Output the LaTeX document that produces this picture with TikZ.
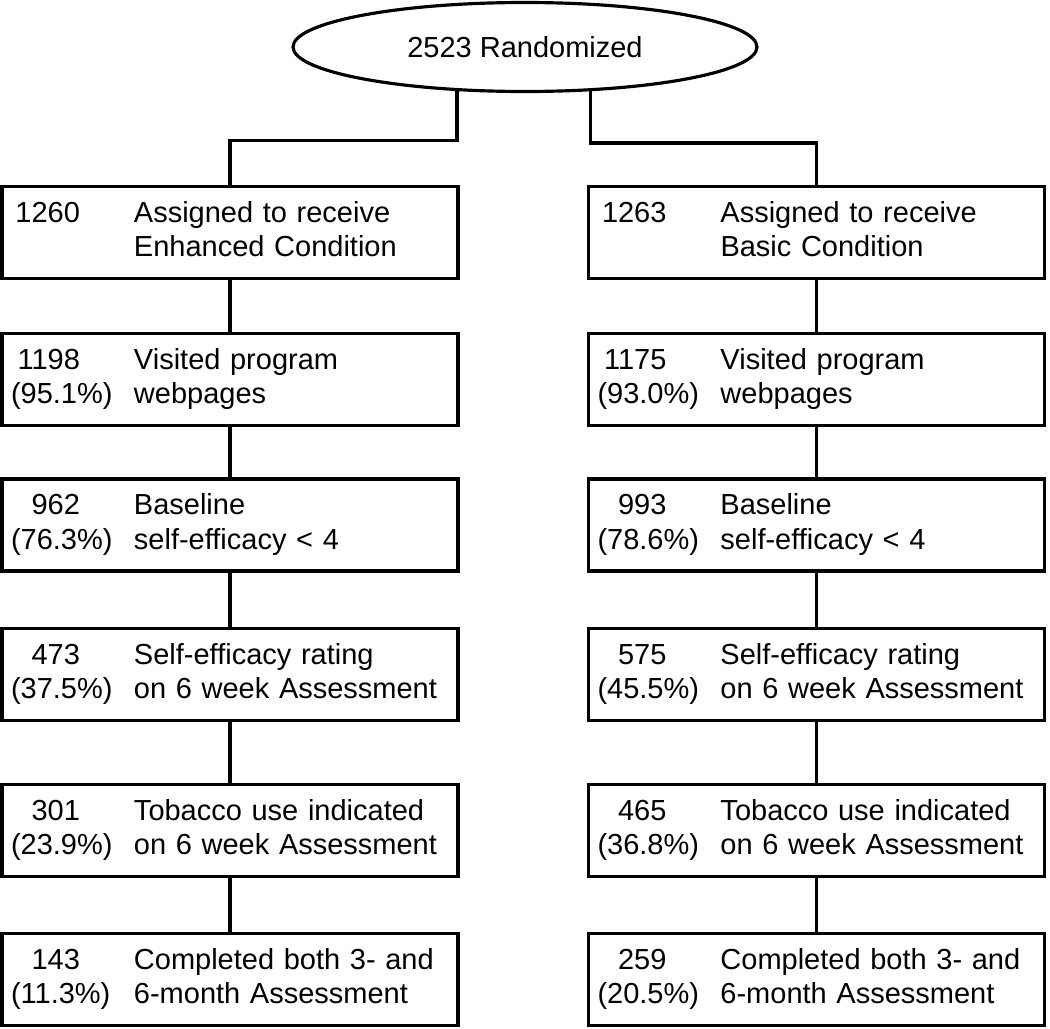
\documentclass[tikz,border=0pt]{standalone}
\usepackage{fontspec}
\setmainfont{Liberation Sans}
\usepackage{tikz}
\usetikzlibrary{shapes}
\tikzstyle{line} = [draw, line width=2pt]
\tikzstyle{box} = [rectangle, draw=black, line width=2pt, text width=8.76cm, inner xsep=0.18cm, minimum height=1.84cm, align=left, font=\fontsize{16.5}{19.9}\selectfont]
\newcommand{\flowtxt}[4]{\begin{tabular}{@{}p{2.46cm}@{}l@{}}\makebox[1.38cm][r]{#1} & #3\\ #2 & #4\end{tabular}}

\begin{document}
\begin{tikzpicture}
        \useasboundingbox (0,0) rectangle (21,-20.58);

        \node (R) [ellipse, draw=black, line width=1.8pt, xshift=10.5cm, yshift=-0.94cm, minimum width=9.28cm, minimum height=1.78cm, inner sep=0pt, font=\fontsize{16.5}{19.9}\selectfont] {2523 Randomized};

        % enhanced arm
        \node (e1) [box, xshift=4.6cm, yshift=-4.65cm] {\flowtxt{1260}{}{Assigned to receive}{Enhanced Condition}};
        \node (e2) [box, xshift=4.6cm, yshift=-7.59cm] {\flowtxt{1198}{(95.1\%)}{Visited program}{webpages}};
        \node (e3) [box, xshift=4.6cm, yshift=-10.5cm] {\flowtxt{962}{(76.3\%)}{Baseline}{self-efficacy < 4}};
        \node (e4) [box, xshift=4.6cm, yshift=-13.49cm] {\flowtxt{473}{(37.5\%)}{Self-efficacy rating}{on 6 week Assessment}};
        \node (e5) [box, xshift=4.6cm, yshift=-16.61cm] {\flowtxt{301}{(23.9\%)}{Tobacco use indicated}{on 6 week Assessment}};
        \node (e6) [box, xshift=4.6cm, yshift=-19.59cm] {\flowtxt{143}{(11.3\%)}{Completed both 3- and}{6-month Assessment}};

        % basic arm
        \node (b1) [box, xshift=16.33cm, yshift=-4.65cm] {\flowtxt{1263}{}{Assigned to receive}{Basic Condition}};
        \node (b2) [box, xshift=16.33cm, yshift=-7.59cm] {\flowtxt{1175}{(93.0\%)}{Visited program}{webpages}};
        \node (b3) [box, xshift=16.33cm, yshift=-10.5cm] {\flowtxt{993}{(78.6\%)}{Baseline}{self-efficacy < 4}};
        \node (b4) [box, xshift=16.33cm, yshift=-13.49cm] {\flowtxt{575}{(45.5\%)}{Self-efficacy rating}{on 6 week Assessment}};
        \node (b5) [box, xshift=16.33cm, yshift=-16.61cm] {\flowtxt{465}{(36.8\%)}{Tobacco use indicated}{on 6 week Assessment}};
        \node (b6) [box, xshift=16.33cm, yshift=-19.59cm] {\flowtxt{259}{(20.5\%)}{Completed both 3- and}{6-month Assessment}};

        \draw[line] (R.213) -- ++(0,-0.99) -| (e1.north);
        \draw[line] (R.326) -- ++(0,-1.04) -| (b1.north);

        \draw[line] (e1) -- (e2);
        \draw[line] (e2) -- (e3);
        \draw[line] (e3) -- (e4);
        \draw[line] (e4) -- (e5);
        \draw[line] (e5) -- (e6);

        \draw[line] (b1) -- (b2);
        \draw[line] (b2) -- (b3);
        \draw[line] (b3) -- (b4);
        \draw[line] (b4) -- (b5);
        \draw[line] (b5) -- (b6);

    \end{tikzpicture}
\end{document}
